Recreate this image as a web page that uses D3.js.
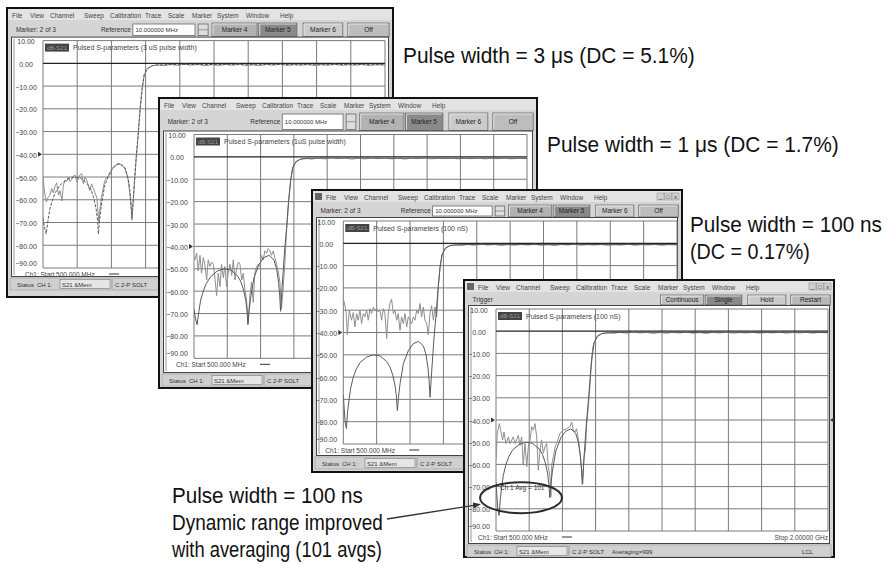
<!DOCTYPE html>
<html>
<head>
<meta charset="utf-8">
<script src="https://cdn.jsdelivr.net/npm/d3@7"></script>
<style>
body{margin:0;background:#fff;}
svg{display:block;}
</style>
</head>
<body>
<div id="root"></div>
<script>
// values: [frequency MHz, S21 dB]
var freqGrid=[500,650,800,950,1100,1250,1400,1550,1700,1850,2000];
var dbTicks=[10,0,-10,-20,-30,-40,-50,-60,-70,-80,-90];
var menuItems=['File','View','Channel','Sweep','Calibration','Trace','Scale','Marker','System','Window','Help'];
var markerButtons=['Marker 4','Marker 5','Marker 6','Off'];
var triggerButtons=['Continuous','Single','Hold','Restart'];
var traceTitles=['Pulsed S-parameters (3 uS pulse width)','Pulsed S-parameters (1uS pulse width)','Pulsed S-parameters (100 nS)','Pulsed S-parameters (100 nS)'];
var noteText=['Pulse width = 3 \u03bcs (DC = 5.1%)','Pulse width = 1 \u03bcs (DC = 1.7%)','Pulse width = 100 ns','(DC = 0.17%)',
              'Pulse width = 100 ns','Dynamic range improved','with averaging (101 avgs)'];

// smooth memory trace (CW reference)
var memoryA=[[500,-68],[506,-72],[514,-75],[522,-69],[530,-64],[542,-60],[553,-57],[575,-53.5],[605,-51],[635,-50],[665,-50.5],
  [695,-53],[710,-55.5],[722,-59],[733,-64],[739,-69],[743,-75],[748,-69],[755,-63],[770,-54],[793,-48],[815,-45],[838,-44],
  [860,-46],[872,-50],[881,-56],[886,-62],[890,-69],[895,-61],[899,-55],[908,-42],[917,-32],[926,-20],[935,-11],[944,-5],
  [958,-2.2],[980,-1],[1025,-0.6],[1100,-0.5],[1250,-0.5],[1400,-0.6],[1550,-0.5],[1700,-0.6],[1850,-0.5],[2000,-0.6]];
var memoryB=[[500,-68],[504,-74],[508,-80],[514,-83],[519,-76],[526,-70],[533,-65],[545,-60],[558,-56.5],[575,-53.5],[605,-51],
  [635,-50],[665,-50.5],[695,-53],[710,-55.5],[722,-59],[733,-64],[739,-69],[743,-75],[748,-69],[755,-63],[770,-54],[793,-48],
  [815,-45],[838,-44],[860,-46],[872,-50],[881,-56],[886,-62],[890,-69],[895,-61],[899,-55],[908,-42],[917,-32],[926,-20],
  [935,-11],[944,-5],[958,-2.2],[980,-1],[1025,-0.6],[1100,-0.5],[1250,-0.5],[1400,-0.6],[1550,-0.5],[1700,-0.6],[1850,-0.5],[2000,-0.6]];

// pulsed data traces
var dataTail=[[944,-5],[958,-2.5],[975,-1.2],[1000,-0.6],[1030,-1.0],[1060,-0.5],[1090,-0.9],[1120,-0.4],[1150,-0.8],[1180,-0.5],
  [1210,-1.0],[1240,-0.6],[1270,-0.9],[1300,-0.5],[1330,-0.8],[1360,-0.4],[1390,-0.9],[1420,-0.6],[1450,-1.0],[1480,-0.5],
  [1510,-0.8],[1540,-0.4],[1570,-0.9],[1600,-0.6],[1630,-0.8],[1660,-0.5],[1690,-0.9],[1720,-0.6],[1750,-0.8],[1780,-0.4],
  [1810,-0.9],[1840,-0.6],[1870,-0.8],[1900,-0.5],[1930,-0.9],[1960,-0.6],[2000,-0.7]];
var data3us=[[500,-50],[507,-57],[515,-61],[522,-59],[530,-58],[538,-55],[545,-57],[553,-54],[560,-52.5],[568,-58],[575,-56],
  [583,-60.5],[589,-54],[596,-51.4],[604,-52],[611,-50],[619,-52],[626,-51],[634,-49.5],[641,-49.2],[648,-52],[655,-51],
  [662,-49],[670,-48.5],[677,-53],[684,-50],[692,-51.4],[699,-54],[706,-56],[713,-53],[721,-55],[728,-57],[736,-59],[740,-64],
  [745,-70],[750,-64],[755,-60],[762,-56],[770,-52],[780,-50],[793,-49],[804,-46],[815,-45.5],[826,-44],[838,-44.5],[849,-45],
  [860,-46.5],[868,-49],[875,-52],[884,-60],[890,-68],[895,-62],[899,-56],[908,-43],[917,-32],[926,-20],[935,-11]];
var data1us=[[500,-45],[504,-46],[512,-43],[519,-51],[527,-44],[534,-52],[542,-45],[549,-48],[557,-55],[564,-46],[572,-49],
  [579,-47],[587,-48],[594,-54],[602,-62],[609,-52],[617,-58],[624,-48],[632,-54],[639,-49],[647,-58],[654,-52],[662,-48],
  [670,-53],[677,-46],[685,-55],[692,-50],[700,-47],[707,-48],[715,-55],[722,-52],[729,-59],[737,-64],[744,-74],[752,-62],
  [759,-56],[767,-65],[774,-52],[782,-49],[789,-48],[797,-49],[804,-44],[812,-46],[819,-42],[827,-43],[834,-41],[842,-42],
  [849,-44],[857,-42],[864,-45],[872,-48],[879,-51],[887,-56],[894,-68],[902,-58],[909,-48],[917,-33],[926,-20],[935,-11]];
var data100ns=[[500,-27],[503,-26],[512,-30],[518,-41],[527,-30],[537,-34.5],[545,-31],[552,-37.5],[560,-31.5],[567,-34.5],
  [575,-30],[582,-36],[590,-31.5],[597,-33],[605,-30],[612,-34.5],[620,-29.3],[627,-31.5],[635,-28.6],[642,-30],[650,-29.3],
  [657,-30.8],[665,-30],[672,-34.5],[680,-29.3],[687,-31.5],[695,-42.7],[702,-31.5],[710,-27],[717,-25],[725,-31.5],[732,-30],
  [740,-34.5],[747,-31.5],[755,-39],[762,-33],[770,-36],[777,-31.5],[785,-37.5],[792,-33],[800,-34.5],[807,-36],[815,-33],
  [822,-34.5],[830,-30],[837,-31.5],[845,-27],[852,-33],[860,-28.6],[867,-34.5],[875,-36],[882,-41],[890,-31.5],[897,-28],
  [905,-34.5],[912,-28.6],[920,-33],[927,-20],[935,-10]];
var data100nsAvg=[[500,-58],[506,-46],[515,-41.6],[521,-44.6],[530,-49],[536,-45.4],[545,-50.6],[556,-47.6],[563,-50.6],
  [571,-49],[578,-47.6],[586,-50.6],[593,-49],[601,-46.9],[608,-51.4],[616,-47.6],[623,-60.4],[631,-50.6],[639,-61],[646,-52],
  [654,-49],[661,-43],[669,-44.6],[676,-41.6],[684,-47.6],[691,-62.6],[699,-53.6],[706,-49],[714,-55],[721,-52],[729,-50.6],
  [736,-61],[744,-65.6],[748,-74.6],[752,-60],[759,-56.6],[767,-52],[774,-50.6],[789,-46],[804,-44.6],[819,-43.9],[834,-43],
  [842,-40.9],[849,-44.6],[857,-45.4],[864,-43.9],[872,-48.4],[880,-55],[887,-62.6],[892,-68.6],[898,-56.6],[904,-53.6],
  [910,-41.6],[917,-34],[925,-24],[932,-12],[938,-7]];

// window layout (pixels)
var wins=[
  {x:7,  y:8,  w:386,h:289,gx0:43,   gx1:385,gy0:40.6, gy1:268,  sb:278,icon:false,bar:'marker', mem:memoryA,dat:data3us.concat(dataTail)},
  {x:159,y:98, w:378,h:290,gx0:194,  gx1:527,gy0:134.5,gy1:358.3,sb:374,icon:false,bar:'marker', mem:memoryA,dat:data1us.concat(dataTail)},
  {x:312,y:190,w:370,h:282,gx0:343.3,gx1:677,gy0:221,  gy1:444,  sb:457,icon:true, bar:'marker', mem:memoryB,dat:data100ns.concat(dataTail)},
  {x:464,y:280,w:370,h:277,gx0:496,  gx1:828,gy0:309,  gy1:531,  sb:545,icon:true, bar:'trigger',mem:memoryB,dat:data100nsAvg.concat(dataTail)}
];
var menuOff=[0,18,38,72,98,133,156,180,205,234,268];
var btnFrac=[[0.531,0.648],[0.652,0.751],[0.767,0.870],[0.883,0.990]];
var btnFill=['#b2b2b2','#8a8a8a','#cbcbcb','#bdbdbd'];
var notePos=[[403,63,292],[547,152,292],[690,232,192],[690,259,120],[172,503,191],[172,530,211],[172,557,210]];

var uiFont='"Liberation Sans", Arial, sans-serif';
var noteFont='"Liberation Sans Narrow", "Liberation Sans", Arial, sans-serif';

var svg=d3.select('#root').append('svg').attr('width',888).attr('height',564);
svg.append('rect').attr('width',888).attr('height',564).attr('fill','#fff');

function txt(g,x,y,s,size,anchor,fill){
  return g.append('text').attr('x',x).attr('y',y).text(s)
    .attr('font-family',uiFont).attr('font-size',size||7)
    .attr('text-anchor',anchor||'start').attr('fill',fill||'#333');
}
function button(g,x0,x1,y0,y1,label,fill){
  g.append('rect').attr('x',x0).attr('y',y0).attr('width',x1-x0).attr('height',y1-y0)
    .attr('fill',fill).attr('stroke','#6a6a6a').attr('stroke-width',0.8);
  g.append('path').attr('d','M'+(x0+1)+','+(y1-1)+'V'+(y0+1)+'H'+(x1-1))
    .attr('fill','none').attr('stroke','#eee').attr('stroke-width',0.8);
  txt(g,(x0+x1)/2,(y0+y1)/2+2.3,label,6.5,'middle','#222');
}

function drawWindow(c,i){
  var g=svg.append('g');
  var x=c.x,y=c.y,w=c.w,h=c.h;
  g.append('rect').attr('x',x).attr('y',y).attr('width',w).attr('height',h)
    .attr('fill','#d5d5d5').attr('stroke','#111').attr('stroke-width',2);

  // menu bar
  g.append('rect').attr('x',x+1).attr('y',y+1).attr('width',w-2).attr('height',11).attr('fill','#e3e3e3');
  var mx=x+(c.icon?14:5);
  if(c.icon){
    g.append('rect').attr('x',x+3).attr('y',y+3).attr('width',7).attr('height',7).attr('fill','#666');
    ['_','\u25a1','x'].forEach(function(s,k){
      var bx=x+w-25+k*7.5;
      g.append('rect').attr('x',bx).attr('y',y+3).attr('width',7).attr('height',7).attr('fill','#d0d0d0').attr('stroke','#888').attr('stroke-width',0.5);
      txt(g,bx+3.5,y+9,s,5.5,'middle','#222');
    });
  }
  menuItems.forEach(function(m,k){ txt(g,mx+menuOff[k],y+9.5,m,6.5,'start','#444'); });

  // toolbar
  var t0=y+15,t1=c.gy0-4,tm=(t0+t1)/2+2.3;
  if(c.bar=='marker'){
    txt(g,x+0.023*w,tm,'Marker: 2 of 3',6.5);
    txt(g,x+0.321*w,tm,'Reference',6.5,'end');
    g.append('rect').attr('x',x+0.326*w).attr('y',t0+1).attr('width',0.161*w).attr('height',t1-t0-2)
      .attr('fill','#fff').attr('stroke','#666').attr('stroke-width',0.8);
    txt(g,x+0.333*w,tm,'10.000000 MHz',6,'start','#333');
    g.append('rect').attr('x',x+0.495*w).attr('y',t0+1).attr('width',0.026*w).attr('height',t1-t0-2)
      .attr('fill','#ddd').attr('stroke','#666').attr('stroke-width',0.8);
    g.append('line').attr('x1',x+0.495*w).attr('x2',x+0.521*w).attr('y1',(t0+t1)/2).attr('y2',(t0+t1)/2).attr('stroke','#666').attr('stroke-width',0.6);
    markerButtons.forEach(function(b,k){ button(g,x+btnFrac[k][0]*w,x+btnFrac[k][1]*w,t0,t1,b,btnFill[k]); });
  } else {
    txt(g,x+0.023*w,tm,'Trigger',6.5);
    triggerButtons.forEach(function(b,k){ button(g,x+btnFrac[k][0]*w,x+btnFrac[k][1]*w,t0,t1,b,['#c2c2c2','#8a8a8a','#cbcbcb','#b8b8b8'][k]); });
  }

  // plot frame
  var fy0=c.gy0-3,fy1=c.sb-2;
  g.append('rect').attr('x',x+4.5).attr('y',fy0-0.5).attr('width',w-9).attr('height',fy1-fy0+1)
    .attr('fill','#fff').attr('stroke','#444').attr('stroke-width',1);
  g.append('line').attr('x1',x+7).attr('x2',x+7).attr('y1',fy0+1).attr('y2',fy1-1).attr('stroke','#999').attr('stroke-width',1);

  var sx=d3.scaleLinear().domain([500,2000]).range([c.gx0,c.gx1]);
  var sy=d3.scaleLinear().domain([-90,10]).range([c.gy1,c.gy0]);

  // grid
  g.selectAll('.vg'+i).data(freqGrid).enter().append('line')
    .attr('x1',function(d){return sx(d);}).attr('x2',function(d){return sx(d);})
    .attr('y1',c.gy0).attr('y2',c.gy1).attr('stroke','#7a7a7a').attr('stroke-width',1);
  g.selectAll('.hg'+i).data(dbTicks).enter().append('line')
    .attr('x1',c.gx0).attr('x2',c.gx1)
    .attr('y1',function(d){return sy(d);}).attr('y2',function(d){return sy(d);})
    .attr('stroke',function(d){return d==0?'#222':'#7a7a7a';})
    .attr('stroke-width',function(d){return d==0?1.3:1;});
  g.selectAll('.yl'+i).data(dbTicks).enter().append('text')
    .attr('x',c.gx0-17).attr('y',function(d){return d==-90?c.gy1-2:sy(d)+3.5;})
    .attr('text-anchor','middle').attr('font-family',uiFont).attr('font-size',7).attr('fill','#444')
    .text(function(d){return d3.format('.2f')(d);});
  // reference position markers
  g.append('path').attr('d','M'+(c.gx0-5)+','+(sy(-40)-2.5)+'l4,2.5l-4,2.5z').attr('fill','#333');
  if(i==3) g.append('path').attr('d','M'+(c.gx1+6)+','+(sy(-40)-2.5)+'l-4,2.5l4,2.5z').attr('fill','#333');

  // trace title
  g.append('rect').attr('x',c.gx0+2).attr('y',c.gy0+3).attr('width',24).attr('height',8).attr('fill','#444');
  txt(g,c.gx0+14,c.gy0+9.3,'dB-S21',6,'middle','#999');
  txt(g,c.gx0+30,c.gy0+9.5,traceTitles[i],7,'start','#444');

  // traces
  g.append('clipPath').attr('id','clip'+i).append('rect')
    .attr('x',c.gx0).attr('y',c.gy0).attr('width',c.gx1-c.gx0).attr('height',c.gy1-c.gy0);
  var line=d3.line().x(function(d){return sx(d[0]);}).y(function(d){return sy(d[1]);});
  var tg=g.append('g').attr('clip-path','url(#clip'+i+')');
  tg.append('path').attr('d',line(c.dat)).attr('fill','none').attr('stroke','#8e8e8e').attr('stroke-width',1);
  tg.append('path').attr('d',line(c.mem)).attr('fill','none').attr('stroke','#5a5a5a').attr('stroke-width',1)
    .attr('stroke-dasharray',i==0?'3,1.5':null);

  // footer
  var fyText=c.gy1+8.5;
  txt(g,c.gx0-18,fyText,'Ch1: Start  500.000 MHz',6.5,'start','#444');
  g.append('line').attr('x1',c.gx0+66).attr('x2',c.gx0+76).attr('y1',fyText-2.5).attr('y2',fyText-2.5).attr('stroke','#333').attr('stroke-width',1);
  txt(g,c.gx1,fyText,'Stop  2.00000 GHz',6.5,'end','#444');

  // status bar
  var s0=c.sb,s1=c.sb+12,st=c.sb+8.5;
  g.append('rect').attr('x',x+3).attr('y',s0).attr('width',w-6).attr('height',s1-s0)
    .attr('fill','#d0d0d0').attr('stroke','#999').attr('stroke-width',0.6);
  txt(g,x+10,st,'Status',6,'start','#333');
  txt(g,x+30,st,'CH 1:',6,'start','#333');
  g.append('rect').attr('x',x+53).attr('y',s0+1.5).attr('width',50).attr('height',9)
    .attr('fill','#e6e6e6').attr('stroke','#777').attr('stroke-width',0.6);
  txt(g,x+55,st,'S21 &Mem',6,'start','#333');
  g.append('line').attr('x1',x+105).attr('x2',x+105).attr('y1',s0+1).attr('y2',s1-1).attr('stroke','#999');
  txt(g,x+108,st,'C  2-P SOLT',6,'start','#333');
  if(i==3){
    txt(g,x+148,st,'Averaging=999',6,'start','#333');
    txt(g,x+338,st,'LCL',6,'start','#333');
  }
  return {sx:sx,sy:sy,g:g};
}

var drawn=wins.map(drawWindow);

// averaging annotation inside the last window
var w4=drawn[3];
txt(w4.g,w4.sx(518),w4.sy(-71.5),'Ch 1 Avg =  101',6.5,'start','#333');
w4.g.append('ellipse').attr('cx',w4.sx(613)).attr('cy',w4.sy(-75)).attr('rx',41).attr('ry',15.5)
  .attr('fill','none').attr('stroke','#2a2a2a').attr('stroke-width',2);

svg.append('defs').append('marker').attr('id','arr').attr('viewBox','0 0 10 10').attr('refX',9).attr('refY',5)
  .attr('markerWidth',6).attr('markerHeight',6).attr('orient','auto')
  .append('path').attr('d','M0,1L10,5L0,9z').attr('fill','#333');
svg.append('line').attr('x1',387).attr('y1',519).attr('x2',w4.sx(613)-41).attr('y2',w4.sy(-78))
  .attr('stroke','#333').attr('stroke-width',1.3).attr('marker-end','url(#arr)');

// pulse width notes: squeeze each line horizontally to the width seen in the picture
noteText.forEach(function(s,k){
  var t=svg.append('text').attr('x',0).attr('y',0).text(s)
    .attr('font-family',noteFont).attr('font-size',22).attr('fill','#111');
  var natural=t.node().getComputedTextLength();
  t.attr('transform','translate('+notePos[k][0]+','+notePos[k][1]+') scale('+(notePos[k][2]/natural)+',1)');
});
</script>
</body>
</html>
